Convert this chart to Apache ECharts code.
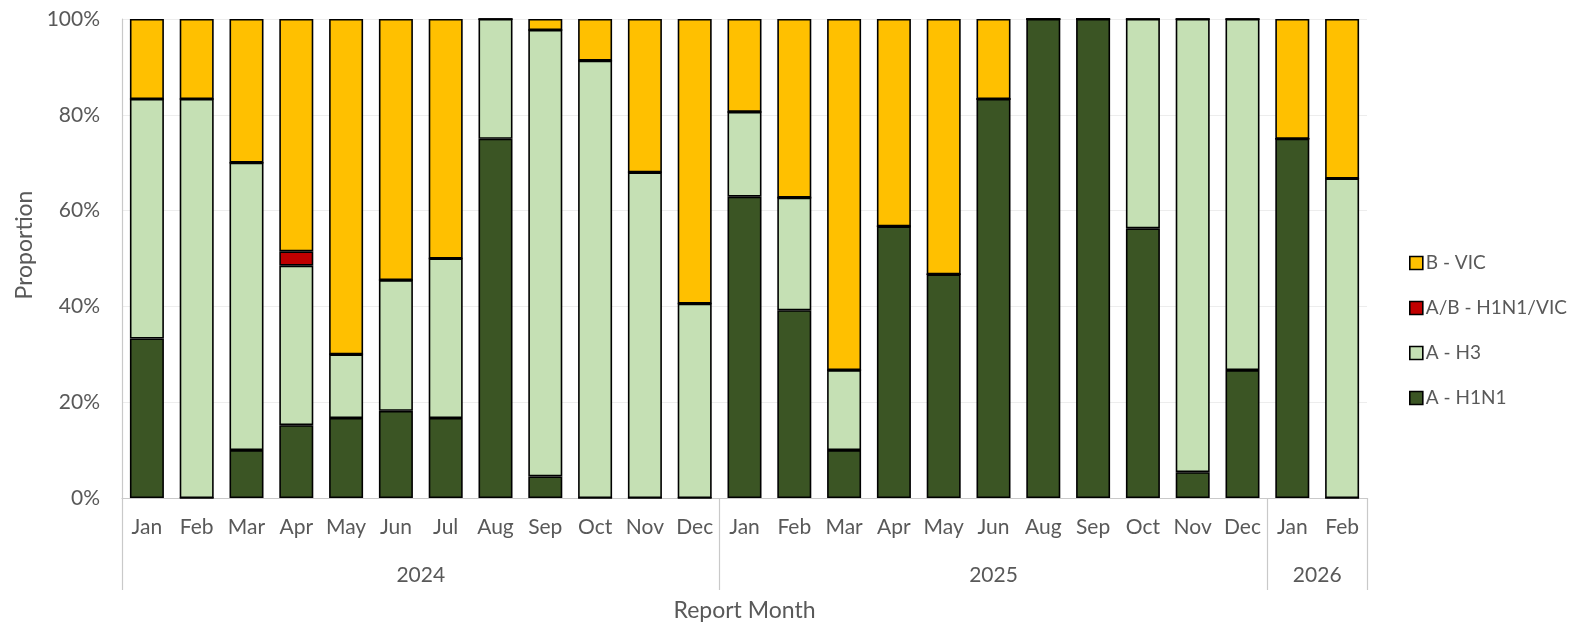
<!DOCTYPE html>
<html>
<head>
<meta charset="utf-8">
<script src="https://cdn.jsdelivr.net/npm/echarts@6/dist/echarts.min.js"></script>
<style>
  html, body { margin: 0; padding: 0; background: #fff; }
  #chart { width: 1582px; height: 627px; }
</style>
</head>
<body>
<div id="chart"></div>
<script>
// report months, grouped by year
var years = ['2024', '2025', '2026'];
var monthsByYear = [
  ['Jan', 'Feb', 'Mar', 'Apr', 'May', 'Jun', 'Jul', 'Aug', 'Sep', 'Oct', 'Nov', 'Dec'],
  ['Jan', 'Feb', 'Mar', 'Apr', 'May', 'Jun', 'Aug', 'Sep', 'Oct', 'Nov', 'Dec'],
  ['Jan', 'Feb']
];

// proportions (%) per month
var h1n1 = [33.3, 0, 10, 15.2, 16.7, 18.2, 16.7, 75, 4.5, 0, 0, 0,
            62.9, 39.2, 10, 56.7, 46.7, 83.3, 100, 100, 56.3, 5.4, 26.7,
            75, 0];
var h3 = [50, 83.3, 60, 33.3, 13.3, 27.3, 33.3, 25, 93.2, 91.3, 68, 40.6,
          17.7, 23.5, 16.7, 0, 0, 0, 0, 0, 43.7, 94.6, 73.3,
          0, 66.7];
var abMix = [0, 0, 0, 3.0, 0, 0, 0, 0, 0, 0, 0, 0,
             0, 0, 0, 0, 0, 0, 0, 0, 0, 0, 0,
             0, 0];
var bVic = [16.7, 16.7, 30, 48.5, 70, 54.5, 50, 0, 2.3, 8.7, 32, 59.4,
            19.4, 37.3, 73.3, 43.3, 53.3, 16.7, 0, 0, 0, 0, 0,
            25, 33.3];

var yTicks = [0, 20, 40, 60, 80, 100];

var months = [].concat.apply([], monthsByYear);

// year axis: one slot per half month, labels at group centres, ticks at group edges
var yearSlots = [];
var yearLabelAt = {};
var yearEdgeAt = { 0: true };
var pos = 0;
monthsByYear.forEach(function (m, i) {
  yearLabelAt[pos + m.length] = years[i];
  pos += m.length * 2;
  yearEdgeAt[pos] = true;
});
for (var k = 0; k <= months.length * 2; k++) {
  yearSlots.push(yearLabelAt[k] || '');
}

var font = 'Lato';
var textColor = '#595959';
var axisGrey = '#C9C9C9';

var chart = echarts.init(document.getElementById('chart'));

function barSeries (name, data, color) {
  return {
    name: name,
    type: 'bar',
    stack: 'total',
    barWidth: 34,
    data: data,
    itemStyle: {
      color: color,
      borderColor: '#000',
      borderWidth: 1.6
    }
  };
}

chart.setOption({
  animation: false,
  textStyle: { fontFamily: font },
  grid: {
    left: 122,
    right: 215,
    top: 19,
    bottom: 129,
    containLabel: false
  },
  legend: {
    orient: 'vertical',
    left: 1404,
    top: 247,
    itemWidth: 13,
    itemHeight: 13,
    itemGap: 23,
    icon: 'rect',
    data: ['B - VIC', 'A/B - H1N1/VIC', 'A - H3', 'A - H1N1'],
    textStyle: {
      fontFamily: font,
      fontSize: 19,
      lineHeight: 22,
      color: textColor,
      padding: [0, 0, 0, -2]
    },
    itemStyle: { borderColor: '#000', borderWidth: 1.6 }
  },
  xAxis: [{
    type: 'category',
    data: months,
    position: 'bottom',
    axisLine: { show: true, lineStyle: { color: axisGrey, width: 1.2 } },
    axisTick: { show: false },
    axisLabel: {
      interval: 0,
      margin: 19,
      fontFamily: font,
      fontSize: 21,
      color: textColor
    },
    name: 'Report Month',
    nameLocation: 'middle',
    nameGap: 101,
    nameTextStyle: { fontFamily: font, fontSize: 23, color: textColor }
  }, {
    type: 'category',
    data: yearSlots,
    boundaryGap: false,
    position: 'bottom',
    axisLine: { show: false },
    axisTick: {
      show: true,
      length: 92,
      interval: function (idx) { return !!yearEdgeAt[idx]; },
      lineStyle: { color: axisGrey, width: 1.2 }
    },
    axisLabel: {
      interval: function (idx) { return !!yearLabelAt[idx]; },
      margin: 67,
      fontFamily: font,
      fontSize: 21,
      color: textColor
    },
    splitLine: { show: false }
  }],
  yAxis: {
    type: 'value',
    min: yTicks[0],
    max: yTicks[yTicks.length - 1],
    interval: yTicks[1] - yTicks[0],
    axisLine: { show: true, lineStyle: { color: axisGrey, width: 1.2 } },
    axisTick: { show: false },
    axisLabel: {
      formatter: '{value}%',
      margin: 22,
      fontFamily: font,
      fontSize: 21,
      color: textColor
    },
    splitLine: { show: true, lineStyle: { color: '#EDEDED', width: 1 } }
  },
  graphic: [{
    type: 'text',
    x: 25,
    y: 245,
    rotation: Math.PI / 2,
    style: {
      text: 'Proportion',
      fontFamily: font,
      fontSize: 23,
      fill: textColor,
      align: 'center',
      verticalAlign: 'middle'
    }
  }],
  series: [
    barSeries('A - H1N1', h1n1, '#3B5524'),
    barSeries('A - H3', h3, '#C5E0B4'),
    barSeries('A/B - H1N1/VIC', abMix, '#C00000'),
    barSeries('B - VIC', bVic, '#FFC000')
  ]
});
</script>
</body>
</html>
